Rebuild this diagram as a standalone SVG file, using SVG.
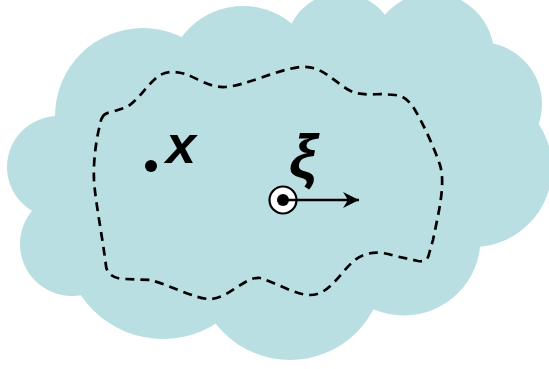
<svg xmlns="http://www.w3.org/2000/svg" width="549" height="369" viewBox="0 0 549 369">
  <defs>
    <style>
      .cloud { fill: #b9dfe3; stroke: none; }
      .boundary { fill: none; stroke: #000; stroke-width: 2.7; stroke-dasharray: 9 6; stroke-linejoin: round; }
      .lbl { font-family: "Liberation Sans", Arial, sans-serif; font-weight: bold; font-style: italic; fill: #000; }
      .conn { stroke: #000; stroke-width: 2.5; fill: none; }
    </style>
    <marker id="arrow" markerWidth="18" markerHeight="16" refX="16" refY="8" orient="auto" markerUnits="userSpaceOnUse">
      <path d="M0,0 L16,8 L0,16 L5,8 Z" fill="#000"/>
    </marker>
  </defs>
  <rect width="549" height="369" fill="#fff"/>
  <g id="cloud" class="cloud">
    <circle cx="143" cy="116" r="88"/>
    <circle cx="58" cy="167" r="51"/>
    <circle cx="72" cy="244" r="52"/>
    <circle cx="163" cy="240" r="99"/>
    <circle cx="290" cy="266" r="94"/>
    <circle cx="404" cy="239" r="76.5"/>
    <circle cx="473" cy="168" r="79"/>
    <circle cx="480" cy="104" r="62"/>
    <circle cx="432" cy="55" r="62"/>
    <circle cx="341" cy="48" r="55"/>
    <circle cx="243" cy="82" r="76"/>
    <polygon points="143,116 243,82 341,48 432,55 480,104 473,168 404,239 290,266 163,240 72,244 58,167"/>
  </g>
  <g id="region">
    <path class="boundary" d="M102,118 Q104,113 112,112 L127,107 C138,100 145,88 155,79 C162,72 172,70 185,74 C195,77 210,88 225,87 C245,86 275,70 300,67 C320,65 330,78 347,89 C355,94 362,95 380,94 L395,95 C405,96 410,102 415,110 C425,127 435,150 440,165 C446,185 438,215 433,240 L429,254 C428,260 424,262 418,261 L395,256 C380,251 367,251 355,260 C340,272 330,295 310,295 C295,295 275,282 260,278 C245,276 230,298 210,299 C195,299 170,285 150,280 L125,279 C114,279 107,274 106,266 C103,240 95,200 94,180 C93,160 97,135 100,125 Q101,119 102,118 Z"/>
  </g>
  <g id="point-x">
    <circle cx="151" cy="166" r="6" fill="#000"/>
    <text class="lbl" x="166" y="163" font-size="54">x</text>
  </g>
  <g id="source-xi">
    <text class="lbl" x="289" y="177" font-size="62">ξ</text>
    <circle cx="283" cy="200" r="13.5" fill="#fff" stroke="#000" stroke-width="2.2"/>
    <circle cx="283" cy="200" r="6" fill="#000"/>
  </g>
  <g id="connectors">
    <line class="conn" x1="283" y1="200" x2="359" y2="200" marker-end="url(#arrow)"/>
  </g>
</svg>
